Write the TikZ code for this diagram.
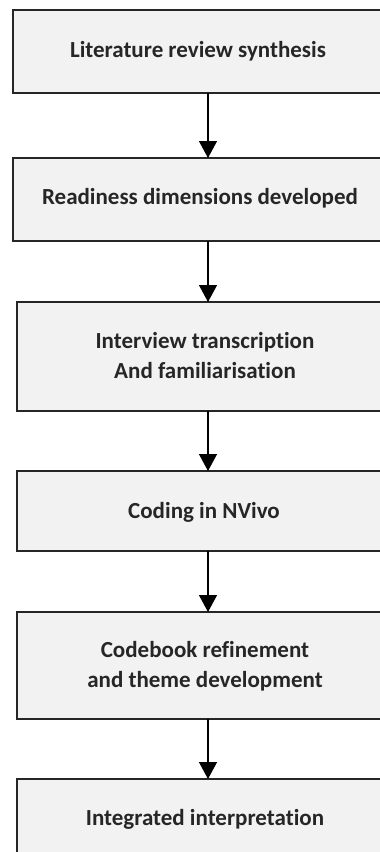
\documentclass[tikz,border=0pt]{standalone}
\usepackage{fontspec}
\setmainfont{Carlito}[Ligatures=NoCommon]
\usetikzlibrary{arrows.meta}
\definecolor{boxfill}{HTML}{F2F2F2}
\definecolor{boxline}{HTML}{262626}
\begin{document}
\begin{tikzpicture}[x=1pt,y=-1pt,
  stepbox/.style={draw=boxline,line width=1.6pt,fill=boxfill},
  lbl/.style={font=\fontsize{23}{30}\selectfont\bfseries,align=center,text=black!85},
  conn/.style={draw=black,line width=1.4pt,-{Triangle[length=17pt,width=18pt]}}]
\path[use as bounding box,fill=white] (0,0) rectangle (380,852);
\begin{scope}
\clip (0,0) rectangle (380,852);
\draw[stepbox] (13,10) rectangle (400,93);
\draw[stepbox] (13,158) rectangle (400,241);
\draw[stepbox] (17,302) rectangle (400,411);
\draw[stepbox] (17,471) rectangle (400,551);
\draw[stepbox] (17,612) rectangle (400,719);
\draw[stepbox] (17,779) rectangle (400,900);
\node[lbl] (n1) at (198,51) {Literature review synthesis};
\node[lbl] (n2) at (200,198) {Readiness dimensions developed};
\node[lbl] (n3) at (205,356) {Interview transcription\\And familiarisation};
\node[lbl] (n4) at (204,512) {Coding in NVivo};
\node[lbl] (n5) at (205,666) {Codebook refinement\\and theme development};
\node[lbl] (n6) at (205,819) {Integrated interpretation};
\coordinate (a1) at (208,93);  \coordinate (b1) at (208,158);
\coordinate (a2) at (208,241); \coordinate (b2) at (208,302);
\coordinate (a3) at (208,411); \coordinate (b3) at (208,471);
\coordinate (a4) at (208,551); \coordinate (b4) at (208,612);
\coordinate (a5) at (208,719); \coordinate (b5) at (208,779);
\draw[conn] (a1) -- (b1);
\draw[conn] (a2) -- (b2);
\draw[conn] (a3) -- (b3);
\draw[conn] (a4) -- (b4);
\draw[conn] (a5) -- (b5);
\end{scope}
\end{tikzpicture}
\end{document}
